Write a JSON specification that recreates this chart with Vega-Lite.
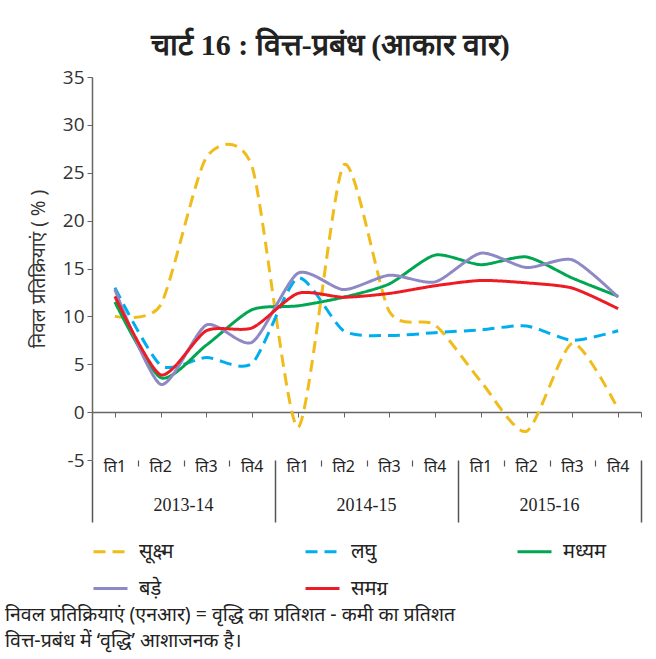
{
  "$schema": "https://vega.github.io/schema/vega-lite/v6.json",
  "width": 549,
  "height": 383,
  "autosize": "none",
  "padding": {"left": 92, "top": 77, "right": 15, "bottom": 199},
  "background": "white",
  "config": {"view": {"stroke": null}, "font": "Noto Sans"},
  "title": {
    "text": "चार्ट 16 : वित्त-प्रबंध (आकार वार)",
    "font": "Liberation Serif",
    "fontSize": 30,
    "fontWeight": "bold",
    "color": "#222",
    "anchor": "middle",
    "dx": -36,
    "dy": 5,
    "offset": 12
  },
  "datasets": {
    "d": [
      {"idx": 0, "q": "ति1", "year": "2013-14", "सूक्ष्म": 10.0, "लघु": 13.0, "मध्यम": 11.5, "बड़े": 12.8, "समग्र": 12.1},
      {"idx": 1, "q": "ति2", "year": "2013-14", "सूक्ष्म": 11.2, "लघु": 4.9, "मध्यम": 3.6, "बड़े": 2.9, "समग्र": 3.9},
      {"idx": 2, "q": "ति3", "year": "2013-14", "सूक्ष्म": 26.6, "लघु": 5.7, "मध्यम": 7.0, "बड़े": 9.1, "समग्र": 8.5},
      {"idx": 3, "q": "ति4", "year": "2013-14", "सूक्ष्म": 25.6, "लघु": 5.1, "मध्यम": 10.7, "बड़े": 7.3, "समग्र": 8.8},
      {"idx": 4, "q": "ति1", "year": "2014-15", "सूक्ष्म": -1.6, "लघु": 14.0, "मध्यम": 11.1, "बड़े": 14.5, "समग्र": 12.4},
      {"idx": 5, "q": "ति2", "year": "2014-15", "सूक्ष्म": 25.8, "लघु": 8.5, "मध्यम": 12.0, "बड़े": 12.8, "समग्र": 12.0},
      {"idx": 6, "q": "ति3", "year": "2014-15", "सूक्ष्म": 10.5, "लघु": 8.0, "मध्यम": 13.4, "बड़े": 14.3, "समग्र": 12.4},
      {"idx": 7, "q": "ति4", "year": "2014-15", "सूक्ष्म": 9.1, "लघु": 8.3, "मध्यम": 16.4, "बड़े": 13.6, "समग्र": 13.2},
      {"idx": 8, "q": "ति1", "year": "2015-16", "सूक्ष्म": 3.2, "लघु": 8.6, "मध्यम": 15.4, "बड़े": 16.6, "समग्र": 13.75},
      {"idx": 9, "q": "ति2", "year": "2015-16", "सूक्ष्म": -2.0, "लघु": 9.0, "मध्यम": 16.2, "बड़े": 15.1, "समग्र": 13.5},
      {"idx": 10, "q": "ति3", "year": "2015-16", "सूक्ष्म": 7.2, "लघु": 7.5, "मध्यम": 14.0, "बड़े": 15.9, "समग्र": 12.95},
      {"idx": 11, "q": "ति4", "year": "2015-16", "सूक्ष्म": 0.3, "लघु": 8.5, "मध्यम": 12.1, "बड़े": 12.0, "समग्र": 10.8}
    ]
  },
  "resolve": {"axis": {"x": "independent", "y": "independent"}},
  "layer": [
    {
      "data": {"name": "d"},
      "transform": [
        {"fold": ["सूक्ष्म", "लघु", "मध्यम", "बड़े", "समग्र"], "as": ["series", "value"]}
      ],
      "mark": {"type": "line", "interpolate": "cardinal", "tension": 0.3, "strokeWidth": 3},
      "encoding": {
        "x": {
          "field": "idx", "type": "quantitative",
          "scale": {"domain": [-0.5, 11.5], "nice": false, "zero": false},
          "axis": {
            "orient": "bottom", "offset": -48, "title": null, "labels": false, "grid": false,
            "values": [0, 1, 2, 3, 4, 5, 6, 7, 8, 9, 10, 11, 11.5],
            "tickSize": 5, "tickColor": "#666", "domainColor": "#666", "domainWidth": 1.5
          }
        },
        "y": {
          "field": "value", "type": "quantitative",
          "scale": {"domain": [-5, 35], "nice": false, "zero": false},
          "axis": {
            "orient": "left",
            "title": "निवल प्रतिक्रियाएं ( % )",
            "titleFontSize": 19, "titleFontWeight": "normal", "titleColor": "#333",
            "titlePadding": 14,
            "values": [-5, 0, 5, 10, 15, 20, 25, 30, 35],
            "labelExpr": "replace(datum.label, '−', '-')",
            "labelFont": "Open Sans", "labelFontSize": 19, "labelColor": "#333", "labelPadding": 3,
            "tickSize": 5, "tickColor": "#666", "domainColor": "#666", "domainWidth": 1.5,
            "grid": false
          }
        },
        "color": {
          "field": "series", "type": "nominal",
          "scale": {
            "domain": ["सूक्ष्म", "लघु", "मध्यम", "बड़े", "समग्र"],
            "range": ["#F0BC1C", "#00AEEF", "#00A651", "#8E89C4", "#ED1C24"]
          },
          "legend": {
            "title": null, "orient": "none", "legendX": 0, "legendY": 456,
            "direction": "horizontal", "columns": 3, "gridAlign": "all",
            "columnPadding": 116, "rowPadding": 8, "padding": 0,
            "symbolType": "stroke", "symbolSize": 1156, "symbolStrokeWidth": 3,
            "labelFontSize": 20, "labelColor": "#222", "labelOffset": 10
          }
        },
        "strokeDash": {
          "field": "series", "type": "nominal",
          "scale": {
            "domain": ["सूक्ष्म", "लघु", "मध्यम", "बड़े", "समग्र"],
            "range": [[12, 7], [12, 7], [1, 0], [1, 0], [1, 0]]
          },
          "legend": null
        }
      }
    },
    {
      "data": {"name": "d"},
      "mark": {"type": "text", "baseline": "middle", "align": "center", "dy": 7, "fontSize": 16, "color": "#222"},
      "encoding": {
        "x": {
          "field": "idx", "type": "quantitative",
          "axis": {
            "orient": "bottom", "title": null, "labels": false, "grid": false, "domain": false,
            "values": [-0.5, 3.5, 7.5, 11.5], "tickSize": 62, "tickColor": "#555", "tickWidth": 1.5
          }
        },
        "y": {"datum": -5, "axis": null},
        "text": {"field": "q"}
      }
    },
    {
      "data": {"name": "d"},
      "transform": [
        {"aggregate": [{"op": "mean", "field": "idx", "as": "mid"}], "groupby": ["year"]}
      ],
      "mark": {"type": "text", "baseline": "middle", "align": "center", "dy": 46, "fontSize": 18, "font": "Liberation Serif", "color": "#222"},
      "encoding": {
        "x": {
          "field": "mid", "type": "quantitative",
          "axis": {
            "orient": "bottom", "title": null, "labels": false, "grid": false, "domain": false,
            "values": [0.5, 1.5, 2.5, 4.5, 5.5, 6.5, 8.5, 9.5, 10.5], "tickSize": 6, "tickColor": "#555", "tickWidth": 1.2
          }
        },
        "y": {"datum": -5, "axis": null},
        "text": {"field": "year"}
      }
    },
    {
      "data": {"values": [{"note": ["निवल प्रतिक्रियाएं (एनआर) = वृद्धि का प्रतिशत - कमी का प्रतिशत", "वित्त-प्रबंध में ‘वृद्धि’ आशाजनक है।"]}]},
      "mark": {"type": "text", "align": "left", "baseline": "middle", "dx": -87, "dy": 155, "fontSize": 19.5, "lineHeight": 26, "color": "#222"},
      "encoding": {
        "x": {"datum": -0.5, "axis": null},
        "y": {"datum": -5, "axis": null},
        "text": {"field": "note"}
      }
    }
  ]
}
